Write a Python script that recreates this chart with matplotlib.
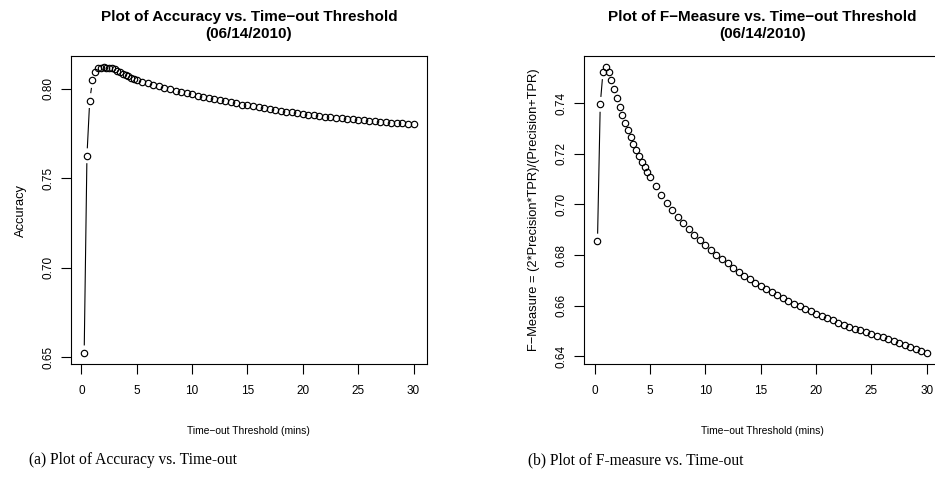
import matplotlib
matplotlib.use("Agg")
import matplotlib.pyplot as plt
import numpy as np

# ---------------- data ----------------
time_mins = [0.25, 0.5, 0.75, 1.0, 1.25, 1.5, 1.75, 2.0, 2.25, 2.5,
             2.75, 3.0, 3.25, 3.5, 3.75, 4.0, 4.25, 4.5, 4.75, 5.0,
             5.5, 6.0, 6.5, 7.0, 7.5, 8.0, 8.5, 9.0, 9.5, 10.0,
             10.5, 11.0, 11.5, 12.0, 12.5, 13.0, 13.5, 14.0, 14.5, 15.0,
             15.5, 16.0, 16.5, 17.0, 17.5, 18.0, 18.5, 19.0, 19.5, 20.0,
             20.5, 21.0, 21.5, 22.0, 22.5, 23.0, 23.5, 24.0, 24.5, 25.0,
             25.5, 26.0, 26.5, 27.0, 27.5, 28.0, 28.5, 29.0, 29.5, 30.0]

accuracy = [0.6525, 0.7625, 0.7933, 0.8045, 0.8095, 0.8112, 0.8117, 0.8118, 0.8117, 0.8115,
            0.8112, 0.8108, 0.8100, 0.8092, 0.8084, 0.8077, 0.8069, 0.8061, 0.8053, 0.8045,
            0.8037, 0.8030, 0.8021, 0.8013, 0.8005, 0.7997, 0.7989, 0.7982, 0.7975, 0.7968,
            0.7961, 0.7954, 0.7947, 0.7941, 0.7935, 0.7929, 0.7923, 0.7917, 0.7911, 0.7906,
            0.7900, 0.7895, 0.7890, 0.7885, 0.7880, 0.7876, 0.7871, 0.7867, 0.7863, 0.7859,
            0.7855, 0.7851, 0.7847, 0.7844, 0.7840, 0.7837, 0.7834, 0.7831, 0.7828, 0.7825,
            0.7822, 0.7820, 0.7817, 0.7815, 0.7812, 0.7810, 0.7808, 0.7806, 0.7803, 0.7801]

f_measure = [0.6855, 0.7396, 0.7525, 0.7542, 0.7525, 0.7492, 0.7458, 0.7422, 0.7387, 0.7353,
             0.7323, 0.7294, 0.7265, 0.7239, 0.7215, 0.7190, 0.7168, 0.7147, 0.7127, 0.7109,
             0.7072, 0.7038, 0.7007, 0.6978, 0.6952, 0.6927, 0.6902, 0.6880, 0.6860, 0.6840,
             0.6820, 0.6802, 0.6785, 0.6768, 0.6750, 0.6734, 0.6719, 0.6704, 0.6691, 0.6678,
             0.6665, 0.6653, 0.6641, 0.6629, 0.6619, 0.6608, 0.6598, 0.6587, 0.6578, 0.6568,
             0.6559, 0.6550, 0.6542, 0.6533, 0.6525, 0.6517, 0.6509, 0.6502, 0.6495, 0.6488,
             0.6481, 0.6475, 0.6468, 0.6460, 0.6452, 0.6444, 0.6436, 0.6428, 0.6420, 0.6413]

x_ticks = [0, 5, 10, 15, 20, 25, 30]
acc_ticks = [0.65, 0.70, 0.75, 0.80]
f_ticks = [0.64, 0.66, 0.68, 0.70, 0.72, 0.74]

title_left = "Plot of Accuracy vs. Time\u2212out Threshold\n(06/14/2010)"
title_right = "Plot of F\u2212Measure vs. Time\u2212out Threshold\n(06/14/2010)"
xlabel = "Time\u2212out Threshold (mins)"
ylabel_left = "Accuracy"
ylabel_right = "F\u2212Measure = (2*Precision*TPR)/(Precision+TPR)"
caption_left = "(a) Plot of Accuracy vs. Time-out"
caption_right = "(b) Plot of F-measure vs. Time-out"

# ---------------- figure ----------------
W, H = 935, 491
plt.rcParams['font.family'] = ['Liberation Sans', 'DejaVu Sans']
fig = plt.figure(figsize=(W / 100, H / 100), dpi=100)

ax_w = 355.7 / W
ax_b = (H - 364.3) / H
ax_h = (364.3 - 56) / H
ax1 = fig.add_axes([71 / W, ax_b, ax_w, ax_h])
ax2 = fig.add_axes([584.3 / W, ax_b, ax_w, ax_h])


def rlim(v):
    lo, hi = min(v), max(v)
    r = hi - lo
    return lo - 0.04 * r, hi + 0.04 * r


def draw_b(ax, x, y, gap_px=8.0):
    pts = ax.transData.transform(np.column_stack([x, y]))
    inv = ax.transData.inverted()
    for p0, p1 in zip(pts[:-1], pts[1:]):
        d = p1 - p0
        L = np.hypot(*d)
        if L > 2 * gap_px:
            u = d / L
            a = inv.transform(p0 + u * gap_px)
            b = inv.transform(p1 - u * gap_px)
            ax.plot([a[0], b[0]], [a[1], b[1]], color='black', lw=0.8)
    ax.plot(x, y, linestyle='none', marker='o', markersize=4.6,
            markerfacecolor='none', markeredgecolor='black', markeredgewidth=0.85)


for ax, y, yt, title, ylab in [(ax1, accuracy, acc_ticks, title_left, ylabel_left),
                               (ax2, f_measure, f_ticks, title_right, ylabel_right)]:
    ax.set_xlim(*rlim(time_mins))
    ax.set_ylim(*rlim(y))
    draw_b(ax, time_mins, y)
    ax.set_xticks(x_ticks)
    ax.set_yticks(yt)
    ax.set_yticklabels(["%.2f" % t for t in yt], rotation=90, va='center')
    ax.tick_params(direction='out', length=7, width=0.8, labelsize=8.5, pad=5)
    ax.tick_params(axis='x', pad=8)
    for s in ax.spines.values():
        s.set_linewidth(0.8)
    pos = ax.get_position()
    fig.text((pos.x0 + pos.x1) / 2, 1 - 25.5 / H, title, ha='center', va='center',
             fontsize=11, fontweight='bold', linespacing=1.25)
    ax.set_xlabel(xlabel, fontsize=7.4, labelpad=21)
    ax.set_ylabel(ylab, fontsize=9.3, labelpad=11)

fig.text(133 / W, 1 - 460 / H, caption_left, ha='center', va='center',
         fontsize=11.2, family=['Liberation Serif', 'DejaVu Serif'])
fig.text(636 / W, 1 - 460 / H, caption_right, ha='center', va='center',
         fontsize=11.2, family=['Liberation Serif', 'DejaVu Serif'])

fig.savefig("out.png", dpi=100)
